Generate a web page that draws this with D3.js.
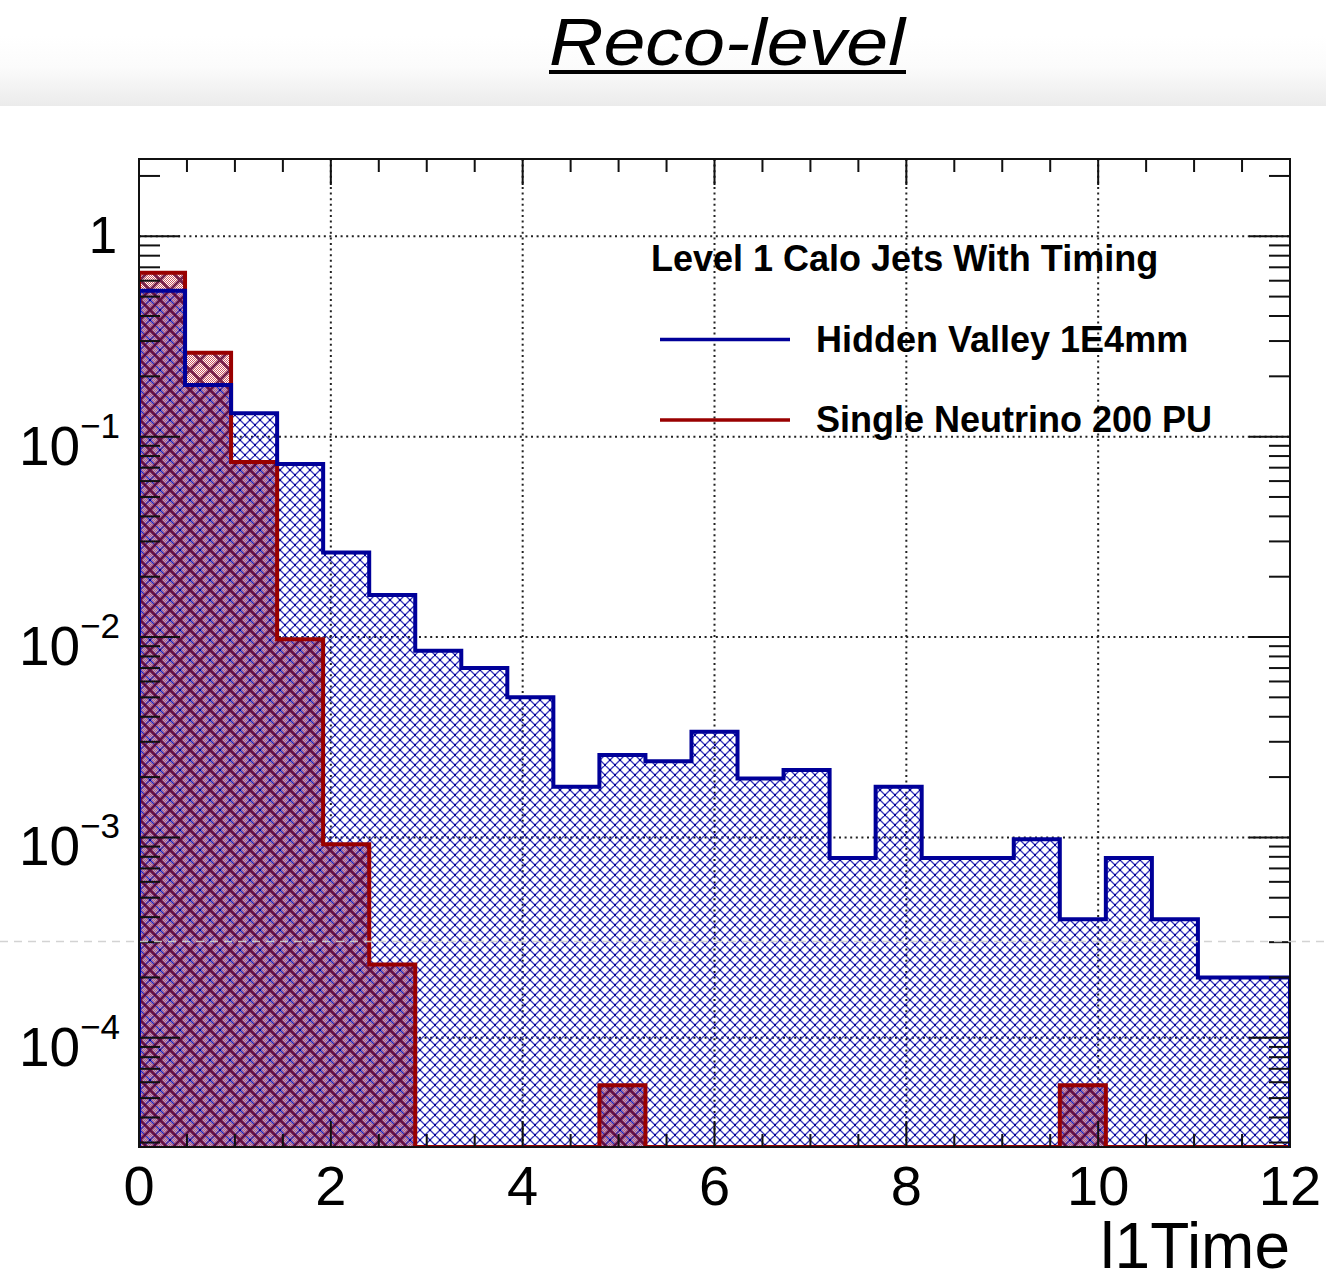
<!DOCTYPE html>
<html>
<head>
<meta charset="utf-8">
<script src="https://cdn.jsdelivr.net/npm/d3@7/dist/d3.min.js"></script>
<style>
  html, body { margin: 0; padding: 0; background: #fff; }
  svg { display: block; }
  text { font-family: "Liberation Sans", Arial, Helvetica, sans-serif; }
</style>
</head>
<body>
<svg id="chart" width="1326" height="1283"></svg>
<script>
// ---- data: normalised l1Time distributions, 25 bins of 0.48 from 0 to 12 ----
const binLow = [0, 0.48, 0.96, 1.44, 1.92, 2.4, 2.88, 3.36, 3.84, 4.32, 4.8, 5.28,
  5.76, 6.24, 6.72, 7.2, 7.68, 8.16, 8.64, 9.12, 9.6, 10.08, 10.56, 11.04, 11.52];
const binWidth = 0.48;

const hiddenValley = [0.534, 0.181, 0.131, 0.0731, 0.0264, 0.0162, 0.00855, 0.0070,
  0.0050, 0.00179, 0.00258, 0.00240, 0.00337, 0.00197, 0.00217, 0.00079, 0.00179,
  0.00079, 0.00079, 0.00098, 0.00039, 0.00079, 0.00039, 0.00020, 0.00020];

const singleNeutrino = [0.657, 0.262, 0.0748, 0.00975, 0.000923, 0.000232, 0, 0, 0, 0,
  0.000058, 0, 0, 0, 0, 0, 0, 0, 0, 0, 0.000058, 0, 0, 0, 0];

const xTickValues = [0, 2, 4, 6, 8, 10, 12];
const xTickLabels = ["0", "2", "4", "6", "8", "10", "12"];
const yDecades = [1, 1e-1, 1e-2, 1e-3, 1e-4];
const yExponents = ["", "\u22121", "\u22122", "\u22123", "\u22124"];

const titleText = "Reco-level";
const xAxisTitle = "l1Time";
const legendHeader = "Level 1 Calo Jets With Timing";
const legendEntries = ["Hidden Valley 1E4mm", "Single Neutrino 200 PU"];

// ---- layout ----
const svg = d3.select("#chart");
const pL = 139, pR = 1290, pT = 159, pB = 1147;
const yMin = 2.85e-5, yMax = 2.43;
const x = d3.scaleLinear().domain([0, 12]).range([pL, pR]);
const y = d3.scaleLog().domain([yMin, yMax]).range([pB, pT]);

const blue = "#000099", red = "#990000";

const defs = svg.append("defs");

// header band behind the title
const g1 = defs.append("linearGradient").attr("id", "band").attr("x1", 0).attr("x2", 0).attr("y1", 0).attr("y2", 1);
g1.append("stop").attr("offset", "0").attr("stop-color", "#ffffff");
g1.append("stop").attr("offset", "0.45").attr("stop-color", "#fbfbfb");
g1.append("stop").attr("offset", "1").attr("stop-color", "#ebebeb");

defs.append("clipPath").attr("id", "plotClip")
  .append("rect").attr("x", pL).attr("y", pT).attr("width", pR - pL).attr("height", pB - pT);

// cross-hatch for the signal sample
const hv = defs.append("pattern").attr("id", "hvHatch").attr("patternUnits", "userSpaceOnUse")
  .attr("width", 10).attr("height", 10);
hv.append("path")
  .attr("d", "M0,0L10,10M10,0L0,10M-2,8L2,12M8,-2L12,2M-2,2L2,-2M8,12L12,8")
  .attr("stroke", "#2424b4").attr("stroke-width", 1.35).attr("fill", "none").attr("opacity", 0.9);
[[4, 4], [-1, -1], [9, -1], [-1, 9], [9, 9]].forEach(p => {
  hv.append("rect").attr("x", p[0]).attr("y", p[1]).attr("width", 2).attr("height", 2).attr("fill", "#000090");
});

// fine red dot fill for the background sample
const sn = defs.append("pattern").attr("id", "snDots").attr("patternUnits", "userSpaceOnUse")
  .attr("width", 2).attr("height", 2);
sn.append("rect").attr("x", 0).attr("y", 0).attr("width", 1).attr("height", 1).attr("fill", "#cc5c66");
sn.append("rect").attr("x", 1).attr("y", 1).attr("width", 1).attr("height", 1).attr("fill", "#cc5c66");

// complementary pixels where both samples overlap
const ov = defs.append("pattern").attr("id", "ovDots").attr("patternUnits", "userSpaceOnUse")
  .attr("width", 2).attr("height", 2);
ov.append("rect").attr("x", 1).attr("y", 0).attr("width", 1).attr("height", 1).attr("fill", "#9e9ee4");
ov.append("rect").attr("x", 0).attr("y", 1).attr("width", 1).attr("height", 1).attr("fill", "#9e9ee4");

// coarse dark-red cross-hatch
const snh = defs.append("pattern").attr("id", "snHatch").attr("patternUnits", "userSpaceOnUse")
  .attr("width", 20).attr("height", 20);
snh.append("path")
  .attr("d", "M0,0L20,20M20,0L0,20M-3,17L3,23M17,-3L23,3M-3,3L3,-3M17,23L23,17")
  .attr("stroke", "#620838").attr("stroke-width", 2.8).attr("fill", "none").attr("opacity", 0.85);

// ---- title ----
svg.append("rect").attr("x", 0).attr("y", 36).attr("width", 1326).attr("height", 70).attr("fill", "url(#band)");
svg.append("text").attr("x", 549).attr("y", 65)
  .attr("font-size", 66).attr("font-style", "italic")
  .attr("textLength", 356).attr("lengthAdjust", "spacingAndGlyphs")
  .attr("fill", "#000").text(titleText);
svg.append("rect").attr("x", 549).attr("y", 70).attr("width", 357).attr("height", 4).attr("fill", "#000");

// ---- grid ----
const grid = svg.append("g").attr("stroke", "#222").attr("stroke-width", 2).attr("stroke-dasharray", "2,3.6");
grid.selectAll("line.v").data(xTickValues.filter(v => v > 0 && v < 12)).join("line")
  .attr("class", "v")
  .attr("x1", d => x(d)).attr("x2", d => x(d)).attr("y1", pT).attr("y2", pB);
grid.selectAll("line.h").data(yDecades).join("line")
  .attr("class", "h")
  .attr("x1", pL).attr("x2", pR).attr("y1", d => y(d)).attr("y2", d => y(d));

// ---- histograms ----
function stepPoints(vals) {
  return vals.flatMap((v, i) => [
    { t: binLow[i], v: v },
    { t: binLow[i] + binWidth, v: v }
  ]);
}
const yv = v => y(Math.max(v, yMin));
const area = d3.area().x(d => x(d.t)).y0(pB).y1(d => yv(d.v));
const outline = d3.line().x(d => x(d.t)).y(d => yv(d.v));
const lastEdge = binLow[binLow.length - 1] + binWidth;
function outlinePoints(vals) {
  return [{ t: 0, v: yMin }, ...stepPoints(vals), { t: lastEdge, v: yMin }];
}

const overlap = hiddenValley.map((v, i) => Math.min(v, singleNeutrino[i]));

const plot = svg.append("g").attr("clip-path", "url(#plotClip)");
plot.append("path").datum(stepPoints(overlap)).attr("d", area).attr("fill", "url(#ovDots)").attr("shape-rendering", "crispEdges");
plot.append("path").datum(stepPoints(singleNeutrino)).attr("d", area).attr("fill", "url(#snDots)").attr("shape-rendering", "crispEdges");
plot.append("path").datum(stepPoints(hiddenValley)).attr("d", area).attr("fill", "url(#hvHatch)");
plot.append("path").datum(stepPoints(singleNeutrino)).attr("d", area).attr("fill", "url(#snHatch)");
plot.append("path").datum(outlinePoints(singleNeutrino)).attr("d", outline)
  .attr("fill", "none").attr("stroke", red).attr("stroke-width", 4).attr("stroke-linejoin", "miter");
plot.append("path").datum(outlinePoints(hiddenValley)).attr("d", outline)
  .attr("fill", "none").attr("stroke", blue).attr("stroke-width", 4).attr("stroke-linejoin", "miter");

// ---- frame and ticks ----
svg.append("rect").attr("x", pL).attr("y", pT).attr("width", pR - pL).attr("height", pB - pT)
  .attr("fill", "none").attr("stroke", "#111").attr("stroke-width", 2);

const ticks = svg.append("g").attr("stroke", "#111").attr("stroke-width", 2);
const xMinor = d3.range(0, 12.001, 0.5);
xMinor.forEach(t => {
  const major = Math.abs(t / 2 - Math.round(t / 2)) < 1e-6;
  const len = major ? 26 : 13;
  ticks.append("line").attr("x1", x(t)).attr("x2", x(t)).attr("y1", pB).attr("y2", pB - len);
  ticks.append("line").attr("x1", x(t)).attr("x2", x(t)).attr("y1", pT).attr("y2", pT + len);
});
const yTickVals = [];
for (let e = -5; e <= 0; e++) {
  for (let m = 1; m <= 9; m++) {
    const v = m * Math.pow(10, e);
    if (v >= yMin && v <= yMax) yTickVals.push({ v, major: m === 1 });
  }
}
yTickVals.forEach(d => {
  const len = d.major ? 41 : 21;
  ticks.append("line").attr("x1", pL).attr("x2", pL + len).attr("y1", y(d.v)).attr("y2", y(d.v));
  ticks.append("line").attr("x1", pR).attr("x2", pR - len).attr("y1", y(d.v)).attr("y2", y(d.v));
});

// ---- axis labels ----
svg.append("g").selectAll("text").data(xTickValues).join("text")
  .attr("x", d => x(d)).attr("y", 1205).attr("text-anchor", "middle")
  .attr("font-size", 56).attr("fill", "#000")
  .text((d, i) => xTickLabels[i]);

const yl = svg.append("g");
yDecades.forEach((d, i) => {
  if (i === 0) {
    yl.append("text").attr("x", 117).attr("y", y(d) + 17).attr("text-anchor", "end")
      .attr("font-size", 51).attr("fill", "#000").text("1");
  } else {
    const t = yl.append("text").attr("x", 120).attr("y", y(d) + 28).attr("text-anchor", "end")
      .attr("font-size", 55).attr("fill", "#000");
    t.append("tspan").text("10");
    t.append("tspan").attr("font-size", 35).attr("dy", -27).text(yExponents[i]);
  }
});

svg.append("text").attr("x", pR).attr("y", 1268).attr("text-anchor", "end")
  .attr("font-size", 64).attr("fill", "#000").text(xAxisTitle);

// ---- legend ----
const lg = svg.append("g").attr("font-weight", "bold").attr("font-size", 36).attr("fill", "#000");
lg.append("text").attr("x", 651).attr("y", 271).text(legendHeader);
const legendColors = [blue, red];
const legendY = [339.5, 420];
legendEntries.forEach((name, i) => {
  svg.append("line").attr("x1", 660).attr("x2", 790).attr("y1", legendY[i]).attr("y2", legendY[i])
    .attr("stroke", legendColors[i]).attr("stroke-width", 3.5);
  lg.append("text").attr("x", 816).attr("y", legendY[i] + 12).text(name);
});

// ---- faint dashed guide across the page ----
svg.append("line").attr("x1", 0).attr("x2", 1326).attr("y1", 941.5).attr("y2", 941.5)
  .attr("stroke", "#cfcfcf").attr("stroke-width", 1.5).attr("stroke-dasharray", "8,6").attr("opacity", 0.9);
</script>
</body>
</html>
